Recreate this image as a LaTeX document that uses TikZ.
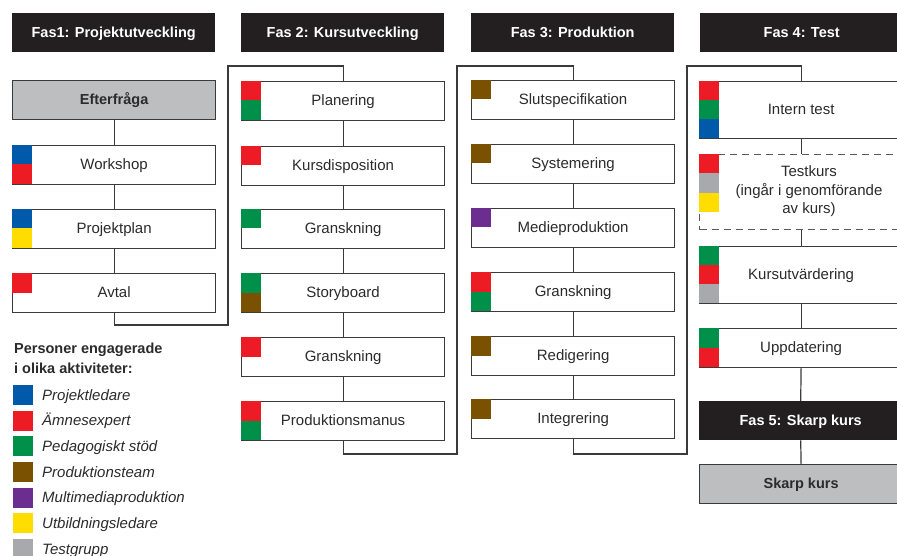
\documentclass[tikz,border=0pt]{standalone}
\usepackage{fontspec}
\setmainfont{Liberation Sans}
\definecolor{cblue}{HTML}{0059A9}
\definecolor{cred}{HTML}{ED1C24}
\definecolor{cgreen}{HTML}{00904A}
\definecolor{cbrown}{HTML}{7A5100}
\definecolor{cpurple}{HTML}{6C2D91}
\definecolor{cyellow}{HTML}{FFDD00}
\definecolor{cgray}{HTML}{A7A9AC}
\definecolor{hdark}{HTML}{231F20}
\definecolor{boxgray}{HTML}{BCBEC0}
\definecolor{linecol}{HTML}{3A3A3A}
\definecolor{txt}{HTML}{2B2B2B}
\newcommand\sqa[3]{\fill[#3] (#1.north west) ++(0,#2) rectangle ++(20,19.5);}
\newcommand\sqb[3]{\fill[#3] (#1.north west) ++(0,#2) rectangle ++(20,19);}
\tikzset{
  basebox/.style={anchor=north west, minimum width=203pt, minimum height=39pt, inner sep=0pt,
    text height=11pt, text depth=1.6pt,
    font=\fontsize{15}{18.5}\selectfont, text=txt},
  act/.style={basebox, draw=linecol, line width=1.2pt, fill=white},
  hdr/.style={basebox, fill=hdark, text=white, font=\fontsize{14.5}{18.5}\selectfont\bfseries},
  graybox/.style={basebox, draw=linecol, line width=1.2pt, fill=boxgray,
    font=\fontsize{14.5}{18.5}\selectfont\bfseries},
  dashbox/.style={basebox, draw=linecol!85, line width=1.2pt, dash pattern=on 7pt off 5pt},
  conn/.style={draw=linecol, line width=1.2pt},
  legtxt/.style={anchor=base west, inner sep=0pt, font=\fontsize{15}{18}\selectfont\itshape, text=txt},
}
\begin{document}
\begin{tikzpicture}[x=1pt,y=-1pt]
\clip (0,0) rectangle (897,556);
\fill[white] (0,0) rectangle (897,556);

% headers
\node[hdr] (h1) at (12,13) {Fas1: Projektutveckling};
\node[hdr] (h2) at (241,13) {Fas 2: Kursutveckling};
\node[hdr] (h3) at (471,13) {Fas 3: Produktion};
\node[hdr] (h4) at (700,13) {Fas 4: Test};

% connectors between columns
\coordinate (a1) at (228,325); \coordinate (a2) at (228,66);
\coordinate (b1) at (457,454); \coordinate (b2) at (457,66);
\coordinate (c1) at (687,454); \coordinate (c2) at (687,66);

% column 1
\node[graybox] (efter) at (12,80) {Efterfråga};
\node[act] (work) at (12,145) {Workshop};
\node[act] (pplan) at (12,209) {Projektplan};
\node[act] (avtal) at (12,273) {Avtal};

% column 2
\node[act] (plan) at (241,81) {Planering};
\node[act] (kdisp) at (241,146) {Kursdisposition};
\node[act] (gran1) at (241,209) {Granskning};
\node[act] (story) at (241,273) {Storyboard};
\node[act] (gran2) at (241,337) {Granskning};
\node[act] (pman) at (241,401) {Produktionsmanus};

% column 3
\node[act] (slut) at (471,80) {Slutspecifikation};
\node[act] (syst) at (471,144) {Systemering};
\node[act] (medie) at (471,208) {Medieproduktion};
\node[act] (gran3) at (471,272) {Granskning};
\node[act] (redig) at (471,336) {Redigering};
\node[act] (integ) at (471,399) {Integrering};

% column 4
\node[act, minimum height=57pt] (intern) at (699,81) {Intern test};
\node[dashbox, minimum height=75pt] (testkurs) at (699,154) {};
\node[align=center, inner sep=0pt, font=\fontsize{15}{18.5}\selectfont, text=txt] (testlbl) at (809,191.5) {Testkurs\\(ingår i genomförande\\av kurs)};
\node[act, minimum height=57pt] (kursutv) at (699,246) {Kursutvärdering};
\node[act] (uppd) at (699,328) {Uppdatering};
\node[hdr] (h5) at (699,401) {Fas 5: Skarp kurs};
\node[graybox] (skarp) at (699,464) {Skarp kurs};

% connectors
\draw[conn] (efter.south) -- (work.north);
\draw[conn] (work.south) -- (pplan.north);
\draw[conn] (pplan.south) -- (avtal.north);
\draw[conn] (avtal.south) |- (a1) -- (a2) -| (plan.north);
\draw[conn] (plan.south) -- (kdisp.north);
\draw[conn] (kdisp.south) -- (gran1.north);
\draw[conn] (gran1.south) -- (story.north);
\draw[conn] (story.south) -- (gran2.north);
\draw[conn] (gran2.south) -- (pman.north);
\draw[conn] (pman.south) |- (b1) -- (b2) -| (slut.north);
\draw[conn] (slut.south) -- (syst.north);
\draw[conn] (syst.south) -- (medie.north);
\draw[conn] (medie.south) -- (gran3.north);
\draw[conn] (gran3.south) -- (redig.north);
\draw[conn] (redig.south) -- (integ.north);
\draw[conn] (integ.south) |- (c1) -- (c2) -| (intern.north);
\draw[conn] (intern.south) -- (testkurs.north);
\draw[conn] (testkurs.south) -- (kursutv.north);
\draw[conn] (kursutv.south) -- (uppd.north);
\draw[conn] (uppd.south) -- (h5.north);
\draw[conn] (h5.south) -- (skarp.north);

% colour squares
\sqa{work}{0}{cblue} \sqa{work}{19.5}{cred}
\sqa{pplan}{0}{cblue} \sqa{pplan}{19.5}{cyellow}
\sqa{avtal}{0}{cred}
\sqa{plan}{0}{cred} \sqa{plan}{19.5}{cgreen}
\sqa{kdisp}{0}{cred}
\sqa{gran1}{0}{cgreen}
\sqa{story}{0}{cgreen} \sqa{story}{19.5}{cbrown}
\sqa{gran2}{0}{cred}
\sqa{pman}{0}{cred} \sqa{pman}{19.5}{cgreen}
\sqa{slut}{0}{cbrown}
\sqa{syst}{0}{cbrown}
\sqa{medie}{0}{cpurple}
\sqa{gran3}{0}{cred} \sqa{gran3}{19.5}{cgreen}
\sqa{redig}{0}{cbrown}
\sqa{integ}{0}{cbrown}
\sqb{intern}{0}{cred} \sqb{intern}{19}{cgreen} \sqb{intern}{38}{cblue}
\sqa{testkurs}{0}{cred} \sqa{testkurs}{19.5}{cgray} \sqa{testkurs}{39}{cyellow}
\sqb{kursutv}{0}{cgreen} \sqb{kursutv}{19}{cred} \sqb{kursutv}{38}{cgray}
\sqa{uppd}{0}{cgreen} \sqa{uppd}{19.5}{cred}

% legend
\node[anchor=north west, inner sep=0pt, align=left, font=\fontsize{14.5}{20}\selectfont\bfseries, text=txt] (legtitle) at (14,342.5) {Personer engagerade\\i olika aktiviteter:};
\foreach \c/\t [count=\i from 0] in {cblue/Projektledare, cred/Ämnesexpert, cgreen/Pedagogiskt stöd, cbrown/Produktionsteam, cpurple/Multimediaproduktion, cyellow/Utbildningsledare, cgray/Testgrupp} {
  \fill[\c] (13,{385+\i*25.67}) rectangle ++(20,20);
  \node[legtxt] (leg\i) at (42,{400+\i*25.67}) {\t};
}
\end{tikzpicture}
\end{document}
